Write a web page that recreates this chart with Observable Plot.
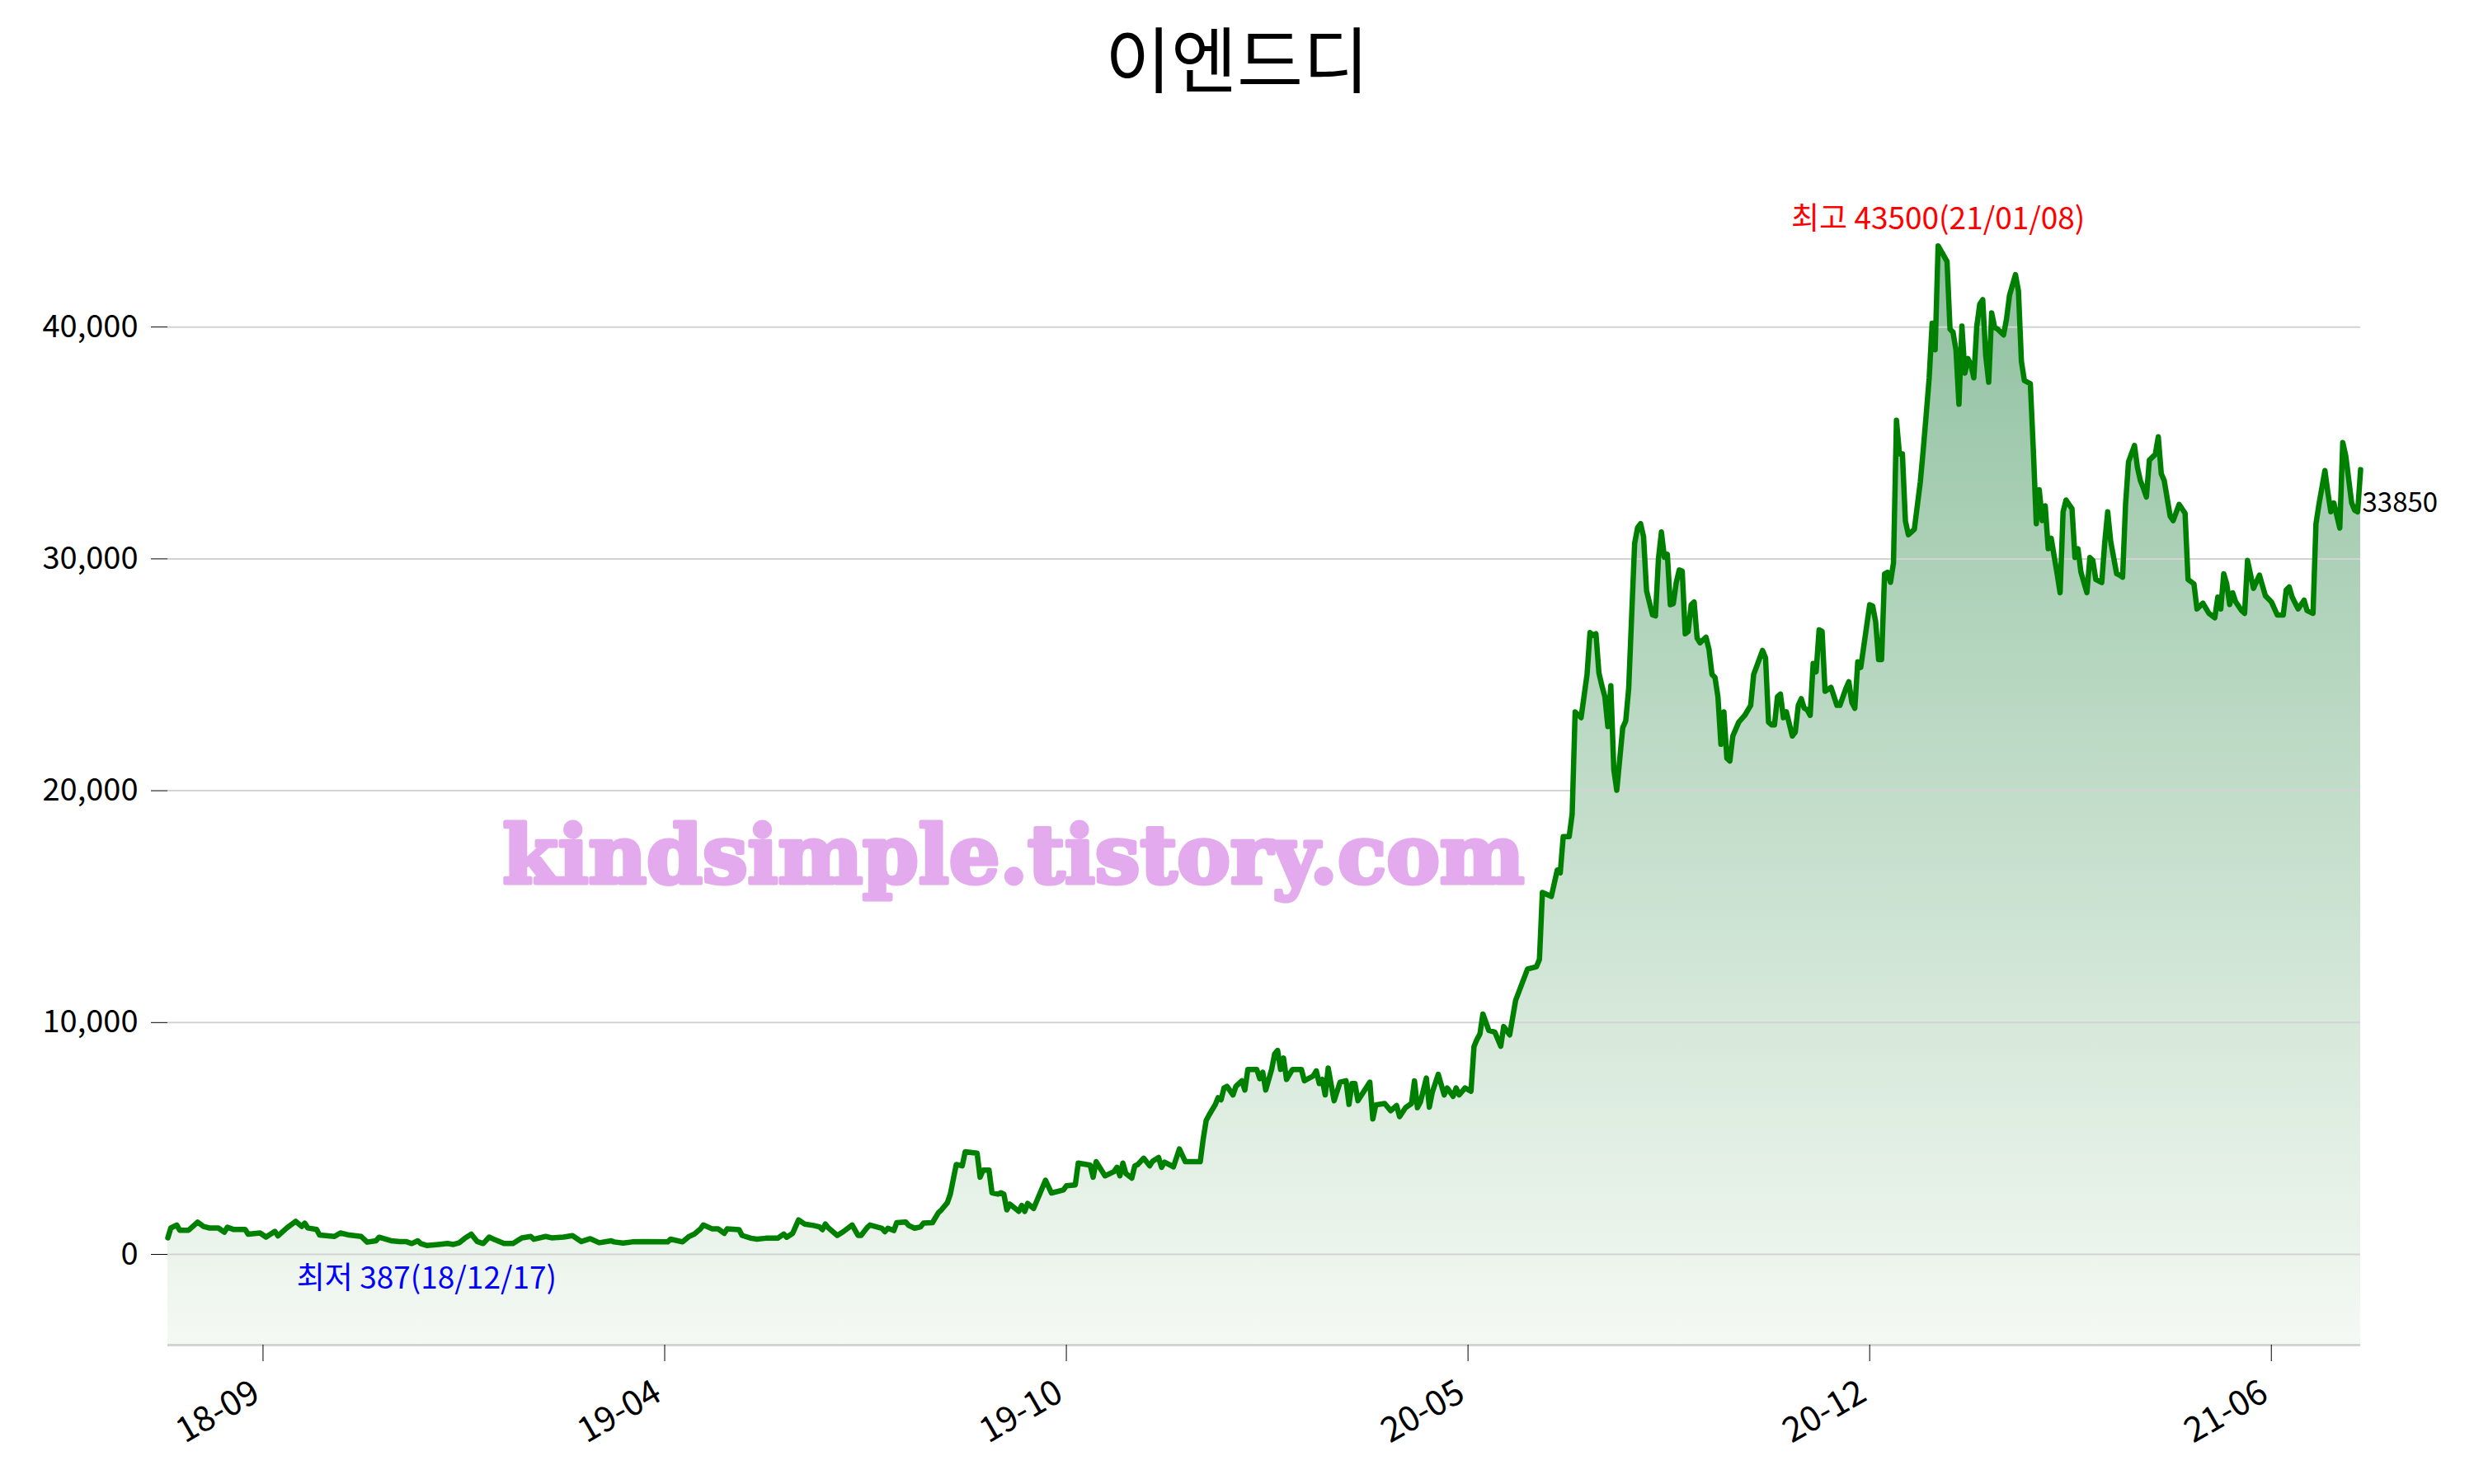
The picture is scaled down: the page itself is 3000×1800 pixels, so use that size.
<!DOCTYPE html>
<html>
<head>
<meta charset="utf-8">
<script src="https://cdn.jsdelivr.net/npm/d3@7"></script>
<script src="https://cdn.jsdelivr.net/npm/@observablehq/plot@0.6"></script>
<style>
html, body { margin: 0; padding: 0; background: #fff; }
#title { width: 3000px; height: 140px; line-height: 136px; text-align: center;
  font-family: 'Noto Sans CJK KR', sans-serif; font-size: 87px; color: #000; }
</style>
</head>
<body>
<div id="title"></div>
<div id="chart"></div>
<script>
// ---- data ----
const chartTitle = "이엔드디";
const watermark = "kindsimple.tistory.com";
const minDate = "18/12/17";
const maxDate = "21/01/08";
const tickDays = [32, 167, 302, 437, 572, 707];
const tickLabels = ["18-09", "19-04", "19-10", "20-05", "20-12", "21-06"];
const yTicks = [0, 10000, 20000, 30000, 40000];
// [trading-day index, closing price]
const closes = [
  [0,715],[1,1140],[3,1270],[4,1045],[7,1045],[10,1390],[12,1205],[14,1140],[17,1140],[19,960],
  [20,1170],[22,1080],[26,1080],[27,875],[31,925],[33,750],[36,995],[37,800],[40,1145],[43,1425],
  [45,1205],[46,1350],[47,1145],[50,1080],[51,835],[56,775],[58,925],[61,835],[65,775],[67,530],
  [70,590],[71,740],[75,590],[78,555],[80,555],[82,470],[84,590],[85,470],[87,387],[91,430],
  [94,470],[96,430],[98,505],[100,715],[102,875],[104,555],[106,470],[108,750],[110,630],[113,470],
  [116,470],[119,715],[122,775],[123,655],[127,775],[129,715],[133,750],[136,810],[139,555],[142,680],
  [145,505],[149,590],
  [150,540],[153,490],[156,540],[160,550],[168,540],[169,660],[173,540],[175,760],[177,880],[179,1100],
  [180,1270],[183,1100],[185,1100],[187,910],[188,1100],[192,1070],[193,820],[196,700],[198,660],[201,700],
  [205,700],[207,880],[208,740],[210,910],[212,1490],[214,1310],[217,1250],[219,1190],[220,1070],[221,1310],
  [222,1150],[225,820],[227,980],[230,1270],[232,820],[233,820],[235,1150],[236,1270],[240,1130],[241,980],
  [242,1130],[244,1030],[245,1370],[248,1400],[249,1250],[251,1130],[253,1190],[254,1350],[257,1370],[259,1800],
  [260,1920],[262,2230],[263,2600],[265,3880],[267,3820],[268,4430],[272,4370],[273,3330],[274,3640],[276,3640],
  [277,2660],[279,2600],[280,2660],[281,2600],[282,1920],[283,2170],[286,1860],[287,2110],[288,1860],[289,2200],
  [291,1980],
  [295,3200],[297,2650],[301,2780],[302,2960],[305,3000],[306,3940],[310,3850],[311,3330],[312,4000],[315,3390],
  [318,3570],[319,3760],[320,3390],[321,3940],[322,3490],[324,3290],[325,3820],[326,3880],[328,4150],[330,3820],
  [331,4020],[333,4180],[334,3760],[335,3980],[338,3780],[340,4550],[342,4000],[347,4000],[348,4980],[349,5780],
  [350,6020],[352,6450],[353,6760],[354,6670],[355,7180],[356,7250],[358,6880],[359,7250],[361,7490],[362,7090],
  [363,7980],[366,7980],[367,7580],[368,7860],[369,7090],[371,7980],[372,8650],[373,8800],[374,7980],[375,8470],
  [376,7550],[378,7980],[381,7980],[382,7490],[385,7700],[386,7920],[387,7370],[388,7550],[389,6880],[390,8040],
  [392,6630],[394,7430],[396,7490],[397,6470],[398,7370],[399,7370],[400,6630],[404,7430],[405,5840],[406,6450],
  [409,6510],[411,6200],[413,6420],[414,5940],[416,6330],[418,6510],[419,7490],[420,6330],[421,6570],[423,7610],
  [424,6350],[425,7000],[427,7770],[429,6880],[430,7180],[432,6820],[433,7180],[434,6880],[436,7180],[438,7040],
  [439,8960],[440,9270],[441,9510],[442,10370],
  [444,9660],[446,9590],[448,8980],[449,9830],[451,9470],[453,10960],[457,12310],[460,12410],[461,12720],[462,15610],
  [465,15440],[467,16580],[468,16460],[469,18020],[471,18020],[472,18990],[473,23400],[475,23150],[477,25010],[478,26820],
  [479,26700],[480,26770],[481,25080],[482,24530],[483,24050],[484,22770],[485,24530],[486,20910],[487,20020],[489,22720],
  [490,23010],[491,24410],[492,27540],[493,30670],[494,31350],[495,31520],[496,30960],[497,28630],[499,27590],[500,27540],
  [501,30000],[502,31160],[503,30070],[504,30190],[505,28020],[506,28070],[507,28990],[508,29520],[509,29470],[510,26770],
  [511,26870],[512,28020],[513,28140],[514,26580],[515,26380],[517,26620],[518,26090],[519,25010],[520,24890],[521,24050],
  [522,22000],[523,23400],[524,21400],[525,21280],[526,22360],[528,22960],[530,23250],[532,23680],[533,25010],[536,26050],
  [537,25730],[538,22960],[539,22840],[540,22840],[541,24050],[542,24170],[543,23150],[544,23400],[546,22360],[547,22530],
  [548,23680],[549,23970],[550,23560],[551,23490],[552,23250],[553,25490],[554,25130],[555,26940],[556,26870],[557,24290],
  [559,24460],[561,23680],[562,23680],[564,24410],[565,24700],[566,23810],[567,23560],[568,25560],[569,25320],[570,26220],
  [572,28020],[573,27970],[574,27300],[575,25660],[576,25660],[577,29350],[578,29420],[579,28990],[580,29830],[581,35980],
  [582,34530],[583,34530],[584,31640],[585,31040],
  [587,31270],[589,33300],[590,34700],[591,36230],[592,37810],[593,40170],[594,39020],[595,43500],[596,43280],[598,42830],
  [599,39910],[600,39780],[601,39020],[602,36670],[603,40040],[604,38010],[605,38640],[606,38390],[607,37810],[608,40040],
  [609,40990],[610,41180],[611,38770],[612,37620],[613,40610],[614,39980],[615,39910],[617,39660],[618,40360],[619,41370],
  [621,42260],[622,41560],[623,38510],[624,37690],[626,37560],[627,34700],[628,31520],[629,32980],[630,31650],[631,32290],
  [632,30440],[633,30890],[635,29360],[636,28540],[637,32030],[638,32540],[640,32160],[641,30060],[642,30440],[643,29430],
  [645,28540],[646,30060],[647,29930],[648,29110],[650,28980],[651,30700],[652,32030],[653,30760],[655,29360],[656,29300],
  [657,29210],[658,32350],[659,34190],[661,34890],[662,33940],[663,33370],[664,33050],[665,32670],[666,34260],[668,34510],
  [669,35270],[670,33680],[671,33370],[673,31840],[674,31650],[676,32350],[678,31970],[679,29110],[681,28920],[682,27840],
  [684,28090],[686,27650],[688,27460],[689,28350],[690,27840],[691,29360],[692,28920],[693,28030],[694,28540],[695,28150],
  [697,27770],[698,27650],[699,29930],[701,28730],[703,29300],[705,28410],[707,28150],[709,27580],[711,27580],[712,28660],
  [713,28790],[714,28350],[716,27840],[718,28220],[719,27770],[721,27650],[722,31520],[723,32350],[725,33810],[726,32860],
  [727,32030],[728,32410],[730,31330],[731,35020],[732,34450],[734,32410],[735,32100],[736,32030],[737,33850]
];
const yDomain = [-3910, 45980];

// ---- chart ----
document.getElementById("title").textContent = chartTitle;
const data = closes.map(([day, price]) => ({day, price}));
const maxPt = d3.greatest(data, d => d.price);
const minPt = d3.least(data, d => d.price);
const lastPt = data[data.length - 1];

const chart = Plot.plot({
  width: 3000,
  height: 1660,
  marginLeft: 203,
  marginRight: 138,
  marginTop: 88,
  marginBottom: 169,
  style: {fontFamily: "'Noto Sans CJK KR', sans-serif", color: "black", background: "white"},
  x: {domain: [data[0].day, lastPt.day], label: null},
  y: {domain: yDomain, label: null},
  marks: [
    Plot.areaY(data, {x: "day", y1: yDomain[0], y2: "price", fill: "url(#areaGrad)"}),
    Plot.gridY({ticks: yTicks, stroke: "#d3d3d3", strokeOpacity: 1, strokeWidth: 2}),
    Plot.ruleY([yDomain[0]], {stroke: "#d3d3d3", strokeWidth: 3}),
    Plot.axisY({ticks: yTicks, tickFormat: d3.format(","), tickSize: 20, tickPadding: 16, fontSize: 38, label: null}),
    // tick marks
    Plot.axisX({ticks: tickDays, tickFormat: () => "", tickSize: 20, label: null}),
    // rotated tick labels
    Plot.axisX({ticks: tickDays, tickFormat: d => tickLabels[tickDays.indexOf(d)], tickRotate: -30,
                tickSize: 0, tickPadding: 54, dx: -8, fontSize: 42, label: null}),
    Plot.lineY(data, {x: "day", y: "price", stroke: "#008000", strokeWidth: 6.5, strokeLinejoin: "round"}),
    Plot.text([maxPt], {x: "day", y: "price", text: d => `최고 ${d.price}(${maxDate})`, fill: "red", fontSize: 37, dy: -32}),
    Plot.text([minPt], {x: "day", y: "price", text: d => `최저 ${d.price}(${minDate})`, fill: "blue", fontSize: 37, dy: 40}),
    Plot.text([lastPt], {x: "day", y: "price", text: d => `${d.price}`, fill: "black", fontSize: 33, dy: 41, dx: 2, textAnchor: "start"}),
    Plot.text([watermark], {frameAnchor: "middle", text: d => d, fontSize: 97, fontWeight: "bold",
                fontFamily: "DejaVu Serif", fill: "#e3aaee", stroke: "#e3aaee", strokeWidth: 5,
                strokeLinejoin: "round", dx: -304, dy: 110})
  ]
});

// vertical gradient for the area fill
const ns = "http://www.w3.org/2000/svg";
const ys = chart.scale("y");
const defs = document.createElementNS(ns, "defs");
const grad = document.createElementNS(ns, "linearGradient");
grad.setAttribute("id", "areaGrad");
grad.setAttribute("gradientUnits", "userSpaceOnUse");
grad.setAttribute("x1", 0); grad.setAttribute("x2", 0);
grad.setAttribute("y1", ys.apply(maxPt.price));
grad.setAttribute("y2", ys.apply(yDomain[0]));
[[0, "#8fc09f"], [1, "#f4f9f3"]].forEach(([o, c]) => {
  const s = document.createElementNS(ns, "stop");
  s.setAttribute("offset", o); s.setAttribute("stop-color", c);
  grad.appendChild(s);
});
defs.appendChild(grad);
chart.insertBefore(defs, chart.firstChild);
document.getElementById("chart").appendChild(chart);
</script>
</body>
</html>
